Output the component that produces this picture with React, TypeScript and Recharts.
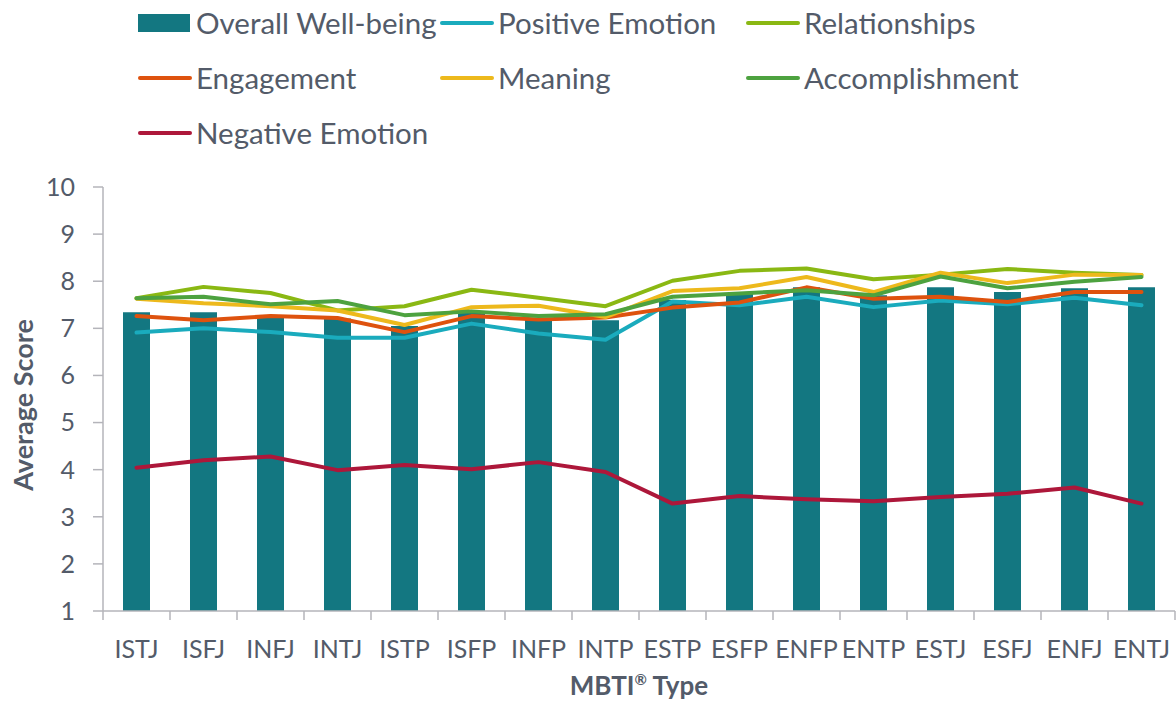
import {
  ComposedChart,
  Bar,
  Line,
  XAxis,
  YAxis,
  Legend,
} from "recharts";

const TEXT_COLOR = "#535b69";
const AXIS_COLOR = "#b4b4ba";
const FONT = "Lato, 'Open Sans', sans-serif";

const CATEGORIES = [
  "ISTJ", "ISFJ", "INFJ", "INTJ", "ISTP", "ISFP", "INFP", "INTP",
  "ESTP", "ESFP", "ENFP", "ENTP", "ESTJ", "ESFJ", "ENFJ", "ENTJ",
];

const OVERALL = [7.34, 7.34, 7.27, 7.21, 7.05, 7.35, 7.21, 7.17, 7.6, 7.74, 7.87, 7.7, 7.87, 7.77, 7.85, 7.87];
const POSITIVE = [6.91, 7.0, 6.92, 6.8, 6.8, 7.1, 6.89, 6.76, 7.57, 7.49, 7.67, 7.45, 7.59, 7.51, 7.65, 7.49];
const RELATIONSHIPS = [7.64, 7.88, 7.75, 7.38, 7.47, 7.82, 7.65, 7.47, 8.01, 8.22, 8.27, 8.04, 8.14, 8.26, 8.18, 8.13];
const ENGAGEMENT = [7.26, 7.17, 7.26, 7.22, 6.92, 7.26, 7.19, 7.23, 7.44, 7.55, 7.87, 7.63, 7.67, 7.56, 7.77, 7.77];
const MEANING = [7.63, 7.53, 7.47, 7.38, 7.07, 7.45, 7.48, 7.24, 7.79, 7.85, 8.09, 7.77, 8.18, 7.96, 8.14, 8.13];
const ACCOMPLISHMENT = [7.64, 7.67, 7.51, 7.58, 7.28, 7.36, 7.26, 7.3, 7.67, 7.74, 7.81, 7.7, 8.1, 7.85, 7.99, 8.09];
const NEGATIVE = [4.04, 4.2, 4.28, 3.99, 4.1, 4.01, 4.16, 3.95, 3.28, 3.44, 3.37, 3.33, 3.42, 3.49, 3.62, 3.28];

const Y_TICKS = [1, 2, 3, 4, 5, 6, 7, 8, 9, 10];

const LINES = [
  { key: "positive", name: "Positive Emotion", color: "#1aabbd" },
  { key: "relationships", name: "Relationships", color: "#8ab813" },
  { key: "engagement", name: "Engagement", color: "#de520e" },
  { key: "meaning", name: "Meaning", color: "#edb91c" },
  { key: "accomplishment", name: "Accomplishment", color: "#4da23f" },
  { key: "negative", name: "Negative Emotion", color: "#ad173a" },
];
const BAR_COLOR = "#137781";

// legend grid: 3 columns, 3 rows (Excel style)
const LEGEND_SLOTS: Record<string, { left: number; top: number }> = {
  "Overall Well-being": { left: 138, top: 23 },
  "Positive Emotion": { left: 440, top: 23 },
  Relationships: { left: 746, top: 23 },
  Engagement: { left: 138, top: 78 },
  Meaning: { left: 440, top: 78 },
  Accomplishment: { left: 746, top: 78 },
  "Negative Emotion": { left: 138, top: 133 },
};

const data = CATEGORIES.map((type, i) => ({
  type,
  overall: OVERALL[i],
  positive: POSITIVE[i],
  relationships: RELATIONSHIPS[i],
  engagement: ENGAGEMENT[i],
  meaning: MEANING[i],
  accomplishment: ACCOMPLISHMENT[i],
  negative: NEGATIVE[i],
}));

function LegendGrid(props: any) {
  const payload = props.payload || [];
  return (
    <div style={{ position: "relative", width: 1176, height: 160 }}>
      {payload.map((entry: any) => {
        const slot = LEGEND_SLOTS[entry.value];
        if (!slot) return null;
        const isBar = entry.type === "rect";
        return (
          <div
            key={entry.value}
            style={{
              position: "absolute",
              left: slot.left,
              top: slot.top - 18,
              height: 36,
              display: "flex",
              alignItems: "center",
              whiteSpace: "nowrap",
            }}
          >
            <svg width={54} height={36} style={{ marginRight: 4 }}>
              {isBar ? (
                <rect x={0} y={9} width={52} height={18} fill={entry.color} />
              ) : (
                <line x1={2} x2={52} y1={18} y2={18} stroke={entry.color} strokeWidth={4} strokeLinecap="round" />
              )}
            </svg>
            <span style={{ fontFamily: FONT, fontSize: 29.5, color: TEXT_COLOR, lineHeight: "36px" }}>
              {entry.value}
            </span>
          </div>
        );
      })}
    </div>
  );
}

function XTick(props: any) {
  const { x, y, payload } = props;
  const off = payload.offset ?? 33.5;
  const last = payload.index === CATEGORIES.length - 1;
  return (
    <g>
      <line x1={x - off} x2={x - off} y1={y} y2={y + 9} stroke={AXIS_COLOR} strokeWidth={1.5} />
      {last && <line x1={x + off} x2={x + off} y1={y} y2={y + 9} stroke={AXIS_COLOR} strokeWidth={1.5} />}
      <text x={x} y={y + 47} textAnchor="middle" fill={TEXT_COLOR} fontSize={25} fontFamily={FONT}>
        {payload.value}
      </text>
    </g>
  );
}

function YTitle(props: any) {
  const vb = props.viewBox;
  const cx = 22;
  const cy = vb.y + vb.height / 2 + 6;
  return (
    <text
      x={cx}
      y={cy}
      transform={`rotate(-90, ${cx}, ${cy})`}
      textAnchor="middle"
      dominantBaseline="central"
      fill={TEXT_COLOR}
      fontSize={27}
      fontWeight={700}
      fontFamily={FONT}
    >
      Average Score
    </text>
  );
}

function XTitle(props: any) {
  const vb = props.viewBox;
  return (
    <text
      x={vb.x + vb.width / 2}
      y={695}
      textAnchor="middle"
      fill={TEXT_COLOR}
      fontSize={26}
      fontWeight={700}
      fontFamily={FONT}
    >
      MBTI<tspan fontSize={15} dy={-10}>®</tspan><tspan dy={10}> Type</tspan>
    </text>
  );
}

export default function App() {
  return (
    <div style={{ position: "absolute", left: 0, top: 0, background: "#fff" }}>
      <ComposedChart
        width={1176}
        height={704}
        data={data}
        margin={{ top: 187, right: 1, bottom: 33, left: 43 }}
        barSize={27}
      >
        <XAxis
          dataKey="type"
          interval={0}
          tickSize={0}
          tickMargin={0}
          tickLine={false}
          axisLine={{ stroke: AXIS_COLOR, strokeWidth: 1.5 }}
          tick={<XTick />}
          height={60}
          label={{ content: <XTitle /> }}
        />
        <YAxis
          type="number"
          domain={[1, 10]}
          ticks={Y_TICKS}
          interval={0}
          width={60}
          tickSize={10}
          tickMargin={18}
          axisLine={{ stroke: AXIS_COLOR, strokeWidth: 1.5 }}
          tickLine={{ stroke: AXIS_COLOR, strokeWidth: 1.5 }}
          tick={{ fill: TEXT_COLOR, fontSize: 25, fontFamily: FONT }}
          label={{ content: <YTitle /> }}
        />
        <Legend
          layout="horizontal"
          verticalAlign="middle"
          align="center"
          wrapperStyle={{ top: 0, left: 0, width: 1176, height: 160 }}
          content={<LegendGrid />}
        />
        <Bar
          dataKey="overall"
          name="Overall Well-being"
          fill={BAR_COLOR}
          legendType="rect"
          isAnimationActive={false}
        />
        {LINES.map((l) => (
          <Line
            key={l.key}
            type="linear"
            dataKey={l.key}
            name={l.name}
            stroke={l.color}
            strokeWidth={4}
            strokeLinecap="round"
            strokeLinejoin="round"
            dot={false}
            activeDot={false}
            legendType="line"
            isAnimationActive={false}
          />
        ))}
      </ComposedChart>
    </div>
  );
}
